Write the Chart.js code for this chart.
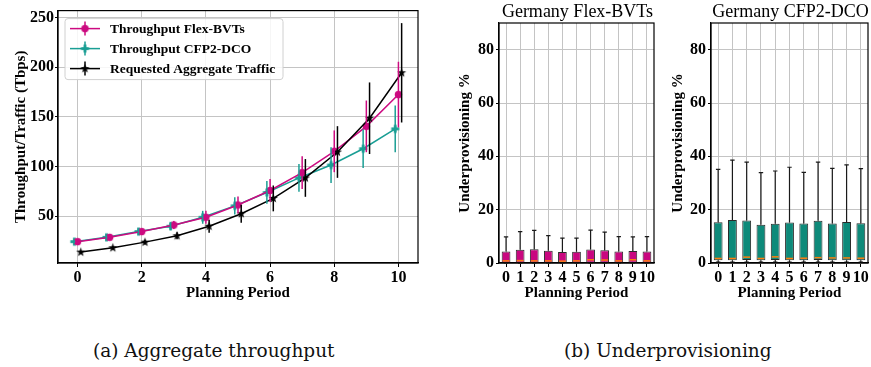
<!DOCTYPE html>
<html>
<head>
<meta charset="utf-8">
<script src="https://cdn.jsdelivr.net/npm/chart.js@4.4.0/dist/chart.umd.min.js"></script>
<style>
  body { margin: 0; background: #fff; width: 871px; height: 367px; position: relative; overflow: hidden; }
  canvas { position: absolute; top: 0; }
  .caption { position: absolute; top: 340px; font-family: 'DejaVu Serif', serif; font-size: 18.5px; line-height: 22px; color: #111; white-space: nowrap; }
</style>
</head>
<body>
<canvas id="tput" width="430" height="305" style="left:0"></canvas>
<canvas id="flex" width="226" height="305" style="left:430px"></canvas>
<canvas id="cfp2" width="216" height="305" style="left:655px"></canvas>
<div class="caption" style="left:93px">(a) Aggregate throughput</div>
<div class="caption" style="left:564px">(b) Underprovisioning</div>
<script>
Chart.defaults.font.family = "'Liberation Serif', 'Times New Roman', serif";
Chart.defaults.color = '#000';
Chart.defaults.animation = false;

// aggregate throughput per planning period (Tbps), with std dev
const periods = [0, 1, 2, 3, 4, 5, 6, 7, 8, 9, 10];
const flexTput = [24.5, 28.8, 34.6, 41.2, 49, 61.4, 76, 94, 115.4, 140.5, 172.5];
const flexTputErr = [1.5, 2, 3, 4, 6.5, 8.5, 11.5, 16.5, 21, 26, 33];
const cfpTput = [24.5, 28.8, 34.6, 40, 49, 60.5, 74, 88.6, 101.6, 118, 138];
const cfpTputErr = [1.5, 2, 3, 4, 6.5, 8.7, 11.5, 14, 18, 19.5, 23.5];
const reqTraffic = [14, 18.3, 24, 30.4, 40, 52.6, 68, 88.6, 114.7, 148.7, 194.4];
const reqTrafficErr = [1.4, 1.8, 2.5, 3.5, 6.5, 9, 13, 19, 26, 36, 50];
const tputTicksX = [0, 2, 4, 6, 8, 10];
const tputTicksY = [50, 100, 150, 200, 250];

// underprovisioning % box stats per period
const boxLabels = ['0', '1', '2', '3', '4', '5', '6', '7', '8', '9', '10'];
const underTicksY = [0, 20, 40, 60, 80];
const flexLo = [0, 0, 0, 0, 0, 0, 0, 0, 0, 0, 0];
const flexQ1 = [0.1, 0.1, 0.1, 0.1, 0.1, 0.1, 0.1, 0.1, 0.1, 0.1, 0.1];
const flexMed = [0.8, 0.9, 0.8, 0.8, 0.7, 0.8, 1.2, 1.1, 0.8, 1.2, 0.8];
const flexQ3 = [4.3, 5.0, 5.2, 4.6, 4.1, 4.2, 5.1, 4.8, 4.3, 4.5, 4.3];
const flexHi = [9.8, 11.8, 12.2, 10.3, 9.3, 9.3, 12.3, 11.6, 9.9, 9.8, 9.9];
const cfpLo = [0.3, 0.3, 0.3, 0.3, 0.3, 0.3, 0.3, 0.3, 0.3, 0.3, 0.3];
const cfpQ1 = [1.0, 1.0, 1.1, 1.0, 1.1, 1.0, 1.0, 1.1, 1.0, 1.0, 1.0];
const cfpMed = [1.7, 1.7, 2.2, 1.7, 2.3, 1.7, 1.8, 2.0, 1.9, 1.9, 1.8];
const cfpQ3 = [15.3, 16.1, 15.9, 14.3, 14.7, 15.2, 14.8, 15.8, 14.8, 15.4, 14.9];
const cfpHi = [35.1, 38.6, 37.8, 33.9, 34.5, 35.9, 34.0, 37.8, 35.5, 36.8, 35.4];

const pink = '#cc0a80';
const teal = '#1a9e94';

// small canvases used as point markers
function marker(shape, color) {
  var c = document.createElement('canvas');
  c.width = 11; c.height = 11;
  var g = c.getContext('2d');
  g.fillStyle = color;
  g.translate(5.5, 5.5);
  if (shape === 'circle') {
    g.beginPath(); g.arc(0, 0, 3.7, 0, Math.PI * 2); g.fill();
  } else if (shape === 'plus') {
    g.fillRect(-4, -1.4, 8, 2.8); g.fillRect(-1.4, -4, 2.8, 8);
  } else {
    g.beginPath();
    for (var k = 0; k < 10; k++) {
      var r = k % 2 ? 1.9 : 4.8, a = -Math.PI / 2 + k * Math.PI / 5;
      g.lineTo(r * Math.cos(a), r * Math.sin(a));
    }
    g.closePath(); g.fill();
  }
  return c;
}

function points(vals, shift) {
  return periods.map(function (p, i) { return { x: p + shift, y: vals[i] }; });
}

// plot frame on all four sides
const frame = {
  id: 'frame',
  afterDraw(chart) {
    var a = chart.chartArea, ctx = chart.ctx;
    ctx.save();
    ctx.strokeStyle = '#000'; ctx.lineWidth = 1.2;
    ctx.strokeRect(a.left, a.top, a.right - a.left, a.bottom - a.top);
    ctx.restore();
  }
};

const errorBars = {
  id: 'errorBars',
  afterDatasetsDraw(chart) {
    var ctx = chart.ctx, y = chart.scales.y;
    chart.data.datasets.forEach(function (ds, i) {
      var meta = chart.getDatasetMeta(i);
      ctx.save();
      ctx.strokeStyle = ds.borderColor; ctx.lineWidth = 1.5;
      meta.data.forEach(function (pt, j) {
        var v = ds.data[j].y, e = ds.errors[j];
        ctx.beginPath();
        ctx.moveTo(pt.x, y.getPixelForValue(v - e));
        ctx.lineTo(pt.x, y.getPixelForValue(v + e));
        ctx.stroke();
      });
      ctx.restore();
    });
  }
};

// legend box in the upper left corner: line + errorbar + marker handles
const lineLegend = {
  id: 'lineLegend',
  afterDraw(chart) {
    var ctx = chart.ctx, a = chart.chartArea;
    var x0 = a.left + 7, y0 = a.top + 8;
    ctx.save();
    ctx.fillStyle = 'rgba(255,255,255,0.85)';
    ctx.strokeStyle = '#d0d0d0'; ctx.lineWidth = 1;
    ctx.beginPath(); ctx.roundRect(x0, y0, 218, 61, 3); ctx.fill(); ctx.stroke();
    chart.data.datasets.slice().sort(function (p, q) { return p.legendRank - q.legendRank; }).forEach(function (ds, k) {
      var yy = y0 + 10 + k * 20;
      ctx.strokeStyle = ds.borderColor; ctx.lineWidth = 1.5;
      ctx.beginPath(); ctx.moveTo(x0 + 5, yy); ctx.lineTo(x0 + 35, yy); ctx.stroke();
      ctx.beginPath(); ctx.moveTo(x0 + 20, yy - 7); ctx.lineTo(x0 + 20, yy + 7); ctx.stroke();
      ctx.drawImage(ds.pointStyle, x0 + 14.5, yy - 5.5);
      ctx.fillStyle = '#000';
      ctx.font = 'bold 13.5px "Liberation Serif", serif';
      ctx.textBaseline = 'middle';
      ctx.fillText(ds.label, x0 + 45, yy + 1);
    });
    ctx.restore();
  }
};

new Chart(document.getElementById('tput'), {
  type: 'line',
  data: {
    datasets: [
      { label: 'Requested Aggregate Traffic', legendRank: 2, data: points(reqTraffic, 0.1), errors: reqTrafficErr,
        borderColor: '#000', pointStyle: marker('star', '#000'), borderWidth: 1.5 },
      { label: 'Throughput Flex-BVTs', legendRank: 0, data: points(flexTput, 0), errors: flexTputErr,
        borderColor: pink, pointStyle: marker('circle', pink), borderWidth: 1.5 },
      { label: 'Throughput CFP2-DCO', legendRank: 1, data: points(cfpTput, -0.1), errors: cfpTputErr,
        borderColor: teal, pointStyle: marker('plus', teal), borderWidth: 1.5 }
    ]
  },
  options: {
    responsive: false,
    layout: { padding: { top: 4, right: 12, bottom: 0, left: 0 } },
    plugins: { legend: { display: false }, tooltip: { enabled: false } },
    scales: {
      x: {
        type: 'linear', min: -0.61, max: 10.61,
        afterBuildTicks: function (s) { s.ticks = tputTicksX.map(function (v) { return { value: v }; }); },
        afterFit: function (s) { s.height = 42; },
        grid: { color: '#c4c4c4', tickLength: 4, tickColor: '#000' },
        border: { color: '#000', width: 1.2 },
        ticks: { font: { size: 16, weight: 'bold' }, padding: 1 },
        title: { display: true, text: 'Planning Period', font: { size: 15, weight: 'bold' }, padding: { top: 0, bottom: 3 } }
      },
      y: {
        min: 3, max: 257,
        afterBuildTicks: function (s) { s.ticks = tputTicksY.map(function (v) { return { value: v }; }); },
        afterFit: function (s) { s.width = 58; },
        grid: { color: '#c4c4c4', tickLength: 3, tickColor: '#000' },
        border: { color: '#000', width: 1.2 },
        ticks: { font: { size: 16, weight: 'bold' }, padding: 1 },
        title: { display: true, text: 'Throughput/Traffic (Tbps)', font: { size: 15, weight: 'bold' }, padding: { top: 12, bottom: 0 } }
      }
    }
  },
  plugins: [errorBars, frame, lineLegend]
});

// whiskers, caps and medians on top of the floating-bar boxes
const whiskers = {
  id: 'whiskers',
  afterDatasetsDraw(chart) {
    var ctx = chart.ctx, y = chart.scales.y;
    chart.data.datasets.forEach(function (ds, i) {
      var meta = chart.getDatasetMeta(i);
      meta.data.forEach(function (bar, j) {
        var half = bar.width / 2, cap = bar.width / 4;
        var q1 = ds.data[j][0], q3 = ds.data[j][1];
        ctx.save();
        ctx.strokeStyle = '#1a1a1a'; ctx.lineWidth = 1.2;
        ctx.beginPath();
        ctx.moveTo(bar.x, y.getPixelForValue(q3)); ctx.lineTo(bar.x, y.getPixelForValue(ds.hi[j]));
        ctx.moveTo(bar.x - cap, y.getPixelForValue(ds.hi[j])); ctx.lineTo(bar.x + cap, y.getPixelForValue(ds.hi[j]));
        ctx.moveTo(bar.x, y.getPixelForValue(q1)); ctx.lineTo(bar.x, y.getPixelForValue(ds.lo[j]));
        ctx.moveTo(bar.x - cap, y.getPixelForValue(ds.lo[j])); ctx.lineTo(bar.x + cap, y.getPixelForValue(ds.lo[j]));
        ctx.stroke();
        ctx.strokeStyle = '#ff7f0e'; ctx.lineWidth = 1.5;
        ctx.beginPath();
        ctx.moveTo(bar.x - half + 1, y.getPixelForValue(ds.med[j]));
        ctx.lineTo(bar.x + half - 1, y.getPixelForValue(ds.med[j]));
        ctx.stroke();
        ctx.restore();
      });
    });
  }
};

const panelTitle = {
  id: 'panelTitle',
  afterDraw(chart, args, opts) {
    var ctx = chart.ctx, a = chart.chartArea;
    ctx.save();
    ctx.font = '18px "Liberation Serif", serif';
    ctx.fillStyle = '#000'; ctx.textAlign = 'center'; ctx.textBaseline = 'middle';
    ctx.fillText(opts.text, (a.left + a.right) / 2 + 1, 12);
    ctx.restore();
  }
};

function boxChart(id, title, color, lo, q1, med, q3, hi, yWidth, titlePad, rightPad) {
  return new Chart(document.getElementById(id), {
    type: 'bar',
    data: {
      labels: boxLabels,
      datasets: [{
        data: q1.map(function (v, i) { return [v, q3[i]]; }),
        lo: lo, med: med, hi: hi,
        backgroundColor: color, borderColor: '#2a2a2a', borderWidth: 1, borderSkipped: false,
        barPercentage: 0.62, categoryPercentage: 1
      }]
    },
    options: {
      responsive: false,
      layout: { padding: { top: 23, right: rightPad, bottom: 0, left: 0 } },
      plugins: { legend: { display: false }, tooltip: { enabled: false }, panelTitle: { text: title } },
      scales: {
        x: {
          afterFit: function (s) { s.height = 42; },
          grid: { offset: false, color: '#c4c4c4', tickLength: 4, tickColor: '#000' },
          border: { color: '#000', width: 1.2 },
          ticks: { font: { size: 16, weight: 'bold' }, padding: 1, autoSkip: false, maxRotation: 0 },
          title: { display: true, text: 'Planning Period', font: { size: 15, weight: 'bold' }, padding: { top: 0, bottom: 3 } }
        },
        y: {
          min: 0, max: 90,
          afterBuildTicks: function (s) { s.ticks = underTicksY.map(function (v) { return { value: v }; }); },
          afterFit: function (s) { s.width = yWidth; },
          grid: { color: '#c4c4c4', tickLength: 3, tickColor: '#000' },
          border: { color: '#000', width: 1.2 },
          ticks: { font: { size: 16, weight: 'bold' }, padding: 2 },
          title: { display: true, text: 'Underprovisioning %', font: { size: 15, weight: 'bold' }, padding: { top: titlePad, bottom: 0 } }
        }
      }
    },
    plugins: [whiskers, frame, panelTitle]
  });
}

boxChart('flex', 'Germany Flex-BVTs', '#c9077f', flexLo, flexQ1, flexMed, flexQ3, flexHi, 69, 26, 1);
boxChart('cfp2', 'Germany CFP2-DCO', '#0e8a7a', cfpLo, cfpQ1, cfpMed, cfpQ3, cfpHi, 56, 14, 3);
</script>
</body>
</html>
